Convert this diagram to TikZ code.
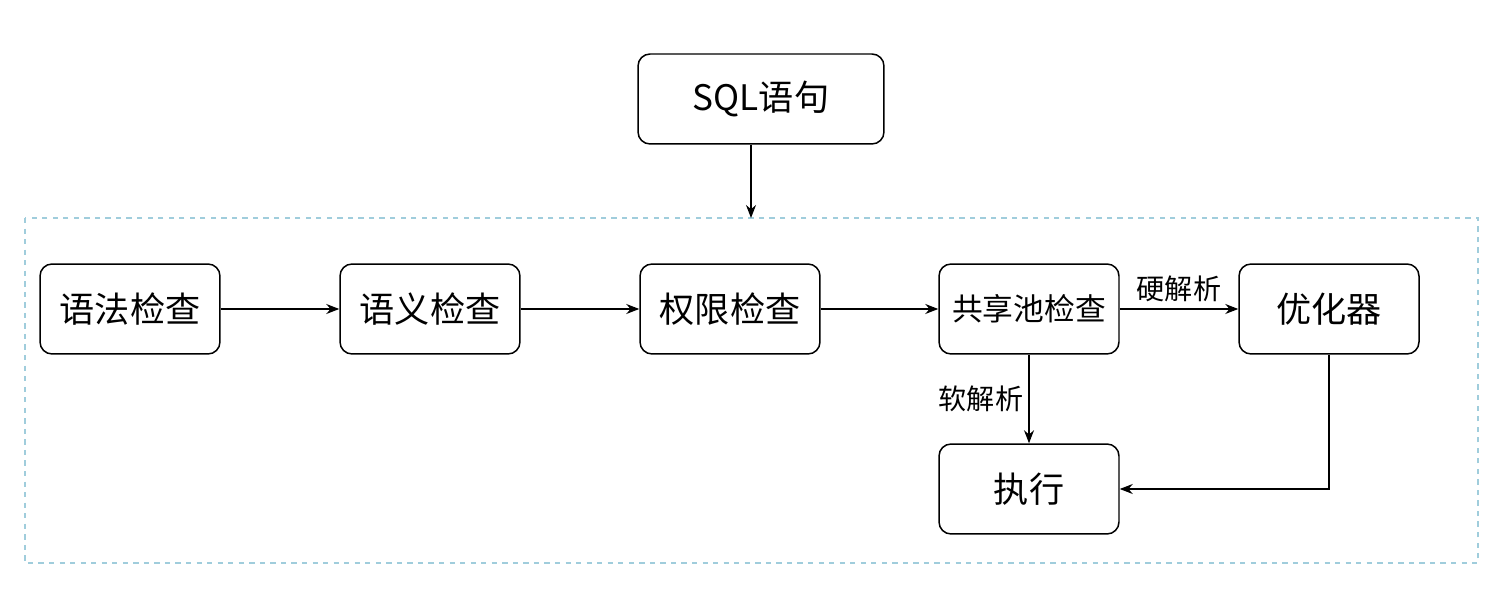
\documentclass[tikz,border=0pt]{standalone}
\usepackage{fontspec}
\setmainfont{Noto Sans CJK SC}
\usepackage{tikz}
\usetikzlibrary{arrows.meta,positioning}

\definecolor{framecol}{RGB}{160,205,220}

\tikzset{
  stepbox/.style={draw, rounded corners=0.24cm, line width=0.85pt, minimum width=3.6cm, minimum height=1.8cm, inner sep=0pt, font=\fontsize{20}{22}\selectfont},
  flow/.style={line width=0.7pt, -{Stealth[length=0.26cm,width=0.2cm]}},
  tag/.style={font=\fontsize{16}{18}\selectfont, inner sep=1pt}
}

\begin{document}
\begin{tikzpicture}[x=0.02cm, y=-0.02cm]
				\useasboundingbox (0,0) rectangle (1500,614);
				
				% dashed frame
				\draw [framecol, dashed, line width=0.6pt] (25,218) rectangle (1478,563);
				\coordinate (top) at (751,218);
				
				\node [stepbox, minimum width=4.92cm] (sql) at (761,99) {SQL语句};
				
				\node [stepbox] (yufa) at (130,309) {语法检查};
				\node [stepbox] (yuyi) at (430,309) {语义检查};
				\node [stepbox] (quanxian) at (730,309) {权限检查};
				\node [stepbox, font=\fontsize{17.5}{20}\selectfont] (gxc) at (1029,309) {共享池检查};
				\node [stepbox] (yhq) at (1329,309) {优化器};
				\node [stepbox] (zx) at (1029,489) {执行};
				
				% % % % % % % % % % % % % % % % % % % % % % % % % %
				
				\draw [flow] (sql.south -| top) -- (top);
				\draw [flow] (yufa) -- (yuyi);
				\draw [flow] (yuyi) -- (quanxian);
				\draw [flow] (quanxian) -- (gxc);
				\draw [flow] (gxc) -- node [tag, above=3pt] (ying) {硬解析} (yhq);
				\draw [flow] (gxc) -- node [tag, left=2pt] (ruan) {软解析} (zx);
				\draw [flow] (yhq.south) |- (zx.east);
\end{tikzpicture}
\end{document}
